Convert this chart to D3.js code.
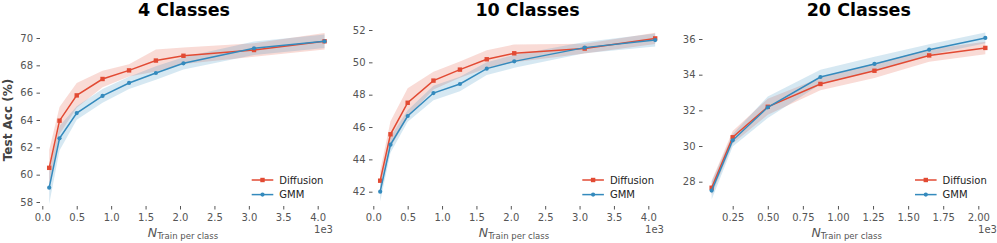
<!DOCTYPE html>
<html>
<head>
<meta charset="utf-8">
<script src="https://cdn.jsdelivr.net/npm/d3@7"></script>
<style>
  body { margin: 0; background: #fff; }
  svg { display: block; font-family: "DejaVu Sans", sans-serif; }
</style>
</head>
<body>
<svg id="chart" width="997" height="243"></svg>
<script>
// x values (training samples per class)
const nTrain = [100, 250, 500, 875, 1260, 1650, 2050, 3075, 4100];
const nTrain20 = [100, 250, 500, 875, 1260, 1650, 2050];

// 4 classes
const diff4 = [60.5, 63.95, 65.8, 67.0, 67.63, 68.35, 68.7, 69.12, 69.76];
const diff4Std = [1.3, 1.0, 0.9, 0.6, 0.45, 0.8, 0.6, 0.5, 0.6];
const gmm4 = [59.05, 62.66, 64.51, 65.76, 66.71, 67.44, 68.15, 69.25, 69.76];
const gmm4Std = [1.2, 0.9, 0.5, 0.5, 0.45, 0.5, 0.45, 0.5, 0.5];

// 10 classes
const diff10 = [42.68, 45.55, 47.5, 48.87, 49.55, 50.19, 50.56, 50.85, 51.48];
const diff10Std = [0.6, 0.8, 0.9, 0.55, 0.5, 0.55, 0.55, 0.3, 0.35];
const gmm10 = [42.0, 44.91, 46.68, 48.1, 48.66, 49.61, 50.06, 50.91, 51.38];
const gmm10Std = [0.6, 0.5, 0.35, 0.45, 0.45, 0.4, 0.4, 0.35, 0.4];

// 20 classes
const diff20 = [27.66, 30.49, 32.2, 33.48, 34.22, 35.08, 35.5];
const diff20Std = [0.4, 0.35, 0.45, 0.35, 0.4, 0.35, 0.35];
const gmm20 = [27.5, 30.32, 32.17, 33.87, 34.6, 35.4, 36.06];
const gmm20Std = [0.5, 0.35, 0.6, 0.4, 0.4, 0.3, 0.3];

const titles = ["4 Classes", "10 Classes", "20 Classes"];
const yTicks4 = [58, 60, 62, 64, 66, 68, 70];
const yTicks10 = [42, 44, 46, 48, 50, 52];
const yTicks20 = [28, 30, 32, 34, 36];
const xTicks = [0, 500, 1000, 1500, 2000, 2500, 3000, 3500, 4000];
const xTicks20 = [250, 500, 750, 1000, 1250, 1500, 1750, 2000];

const red = "#E24A33";
const blue = "#348ABD";
const tickColor = "#555";

const panels = [
  {
    title: titles[0], x: nTrain, diff: diff4, diffStd: diff4Std, gmm: gmm4, gmmStd: gmm4Std,
    xDomain: [0, 4000], xRange: [42.3, 317.7], yDomain: [58, 70], yRange: [202, 38],
    yTicks: yTicks4, xTicks: xTicks, xFmt: d3.format(".1f"),
    axisX: 40, right: 333, titleX: 184, xLabelX: 183, legendX: 251.7
  },
  {
    title: titles[1], x: nTrain, diff: diff10, diffStd: diff10Std, gmm: gmm10, gmmStd: gmm10Std,
    xDomain: [0, 4000], xRange: [373.3, 648.3], yDomain: [42, 52], yRange: [191.7, 30],
    yTicks: yTicks10, xTicks: xTicks, xFmt: d3.format(".1f"),
    axisX: 372.5, right: 664, titleX: 527.5, xLabelX: 514, legendX: 582.3
  },
  {
    title: titles[2], x: nTrain20, diff: diff20, diffStd: diff20Std, gmm: gmm20, gmmStd: gmm20Std,
    xDomain: [250, 2000], xRange: [732.7, 978.3], yDomain: [28, 36], yRange: [181.7, 39],
    yTicks: yTicks20, xTicks: xTicks20, xFmt: d3.format(".2f"),
    axisX: 702.5, right: 997, titleX: 858.8, xLabelX: 846.7, legendX: 915
  }
];

const svg = d3.select("#chart");
const axisY = 206;

panels.forEach((p, pi) => {
  const x = d3.scaleLinear().domain(p.xDomain).range(p.xRange);
  const y = d3.scaleLinear().domain(p.yDomain).range(p.yRange);
  const g = svg.append("g");

  // y axis
  const yAxis = g.append("g")
    .attr("transform", `translate(${p.axisX},0)`)
    .call(d3.axisLeft(y).tickValues(p.yTicks).tickSize(3.5).tickPadding(3.5).tickFormat(d3.format("d")));
  // x axis
  const xAxis = g.append("g")
    .attr("transform", `translate(0,${axisY})`)
    .call(d3.axisBottom(x).tickValues(p.xTicks).tickSize(3.5).tickPadding(4).tickFormat(d => p.xFmt(d / 1000)));
  [yAxis, xAxis].forEach(a => {
    a.select(".domain").remove();
    a.selectAll("line").attr("stroke", tickColor).attr("stroke-width", 1);
    a.selectAll("text").attr("fill", tickColor).style("font-size", "10px").style("font-family", "DejaVu Sans");
  });

  // series: bands, lines, markers
  const series = [
    { name: "Diffusion", mean: p.diff, std: p.diffStd, color: red, marker: "square" },
    { name: "GMM", mean: p.gmm, std: p.gmmStd, color: blue, marker: "circle" }
  ];

  series.forEach(s => {
    const rows = p.x.map((v, i) => ({ x: v, m: s.mean[i], sd: s.std[i] }));
    const area = d3.area()
      .x(d => x(d.x))
      .y0(d => y(d.m - d.sd))
      .y1(d => y(d.m + d.sd));
    g.append("path")
      .datum(rows)
      .attr("d", area)
      .attr("fill", s.color)
      .attr("fill-opacity", 0.2);
  });

  series.forEach(s => {
    const rows = p.x.map((v, i) => ({ x: v, m: s.mean[i] }));
    const line = d3.line().x(d => x(d.x)).y(d => y(d.m));
    g.append("path")
      .datum(rows)
      .attr("d", line)
      .attr("fill", "none")
      .attr("stroke", s.color)
      .attr("stroke-width", 1.5);
    if (s.marker === "square") {
      g.selectAll(null).data(rows).enter().append("rect")
        .attr("x", d => x(d.x) - 2.2)
        .attr("y", d => y(d.m) - 2.2)
        .attr("width", 4.4).attr("height", 4.4)
        .attr("fill", s.color);
    } else {
      g.selectAll(null).data(rows).enter().append("circle")
        .attr("cx", d => x(d.x))
        .attr("cy", d => y(d.m))
        .attr("r", 2.1)
        .attr("fill", s.color);
    }
  });

  // legend
  const legend = g.append("g").attr("transform", `translate(${p.legendX},180)`);
  series.forEach((s, i) => {
    const ly = i * 14.6;
    legend.append("line")
      .attr("x1", 0).attr("x2", 21.6)
      .attr("y1", ly).attr("y2", ly)
      .attr("stroke", s.color).attr("stroke-width", 1.5);
    if (s.marker === "square") {
      legend.append("rect").attr("x", 10.8 - 2.2).attr("y", ly - 2.2)
        .attr("width", 4.4).attr("height", 4.4).attr("fill", s.color);
    } else {
      legend.append("circle").attr("cx", 10.8).attr("cy", ly).attr("r", 2.1).attr("fill", s.color);
    }
    legend.append("text")
      .attr("x", 27.6).attr("y", ly)
      .attr("dy", "0.35em")
      .style("font-size", "10px")
      .attr("fill", "#222")
      .text(s.name);
  });

  // title
  g.append("text")
    .attr("x", p.titleX).attr("y", 16)
    .attr("text-anchor", "middle")
    .style("font-size", "17.5px")
    .style("font-weight", "bold")
    .attr("fill", "#000")
    .text(p.title);

  // x label
  const xl = g.append("text")
    .attr("x", p.xLabelX).attr("y", 237)
    .attr("text-anchor", "middle")
    .attr("fill", tickColor);
  xl.append("tspan").style("font-size", "12.5px").style("font-style", "italic").text("N");
  xl.append("tspan").style("font-size", "8.5px").attr("dy", 2).text("Train per class");

  // offset text
  g.append("text")
    .attr("x", p.right).attr("y", 233)
    .attr("text-anchor", "end")
    .style("font-size", "10px")
    .attr("fill", tickColor)
    .text("1e3");

  if (pi === 0) {
    g.append("text")
      .attr("transform", "translate(12,120) rotate(-90)")
      .attr("text-anchor", "middle")
      .style("font-size", "12px")
      .style("font-weight", "bold")
      .attr("fill", "#444")
      .text("Test Acc (%)");
  }
});
</script>
</body>
</html>
